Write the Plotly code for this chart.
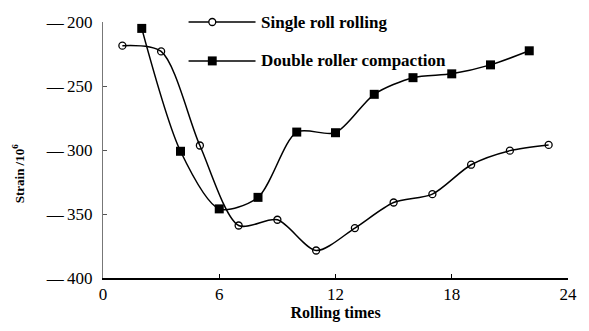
import plotly.graph_objects as go

# Rolling passes and measured strain (x10^-6)
single_passes = [1, 3, 5, 7, 9, 11, 13, 15, 17, 19, 21, 23]
single_strain = [-218.5, -223, -296.5, -359, -354.5, -378.5, -361, -341, -334.5, -311.5, -300.5, -296]

double_passes = [2, 4, 6, 8, 10, 12, 14, 16, 18, 20, 22]
double_strain = [-205, -301, -346, -337, -286, -286.5, -256.5, -243.5, -240.5, -233.5, -222.5]

series_names = ["Single roll rolling", "Double roller compaction"]

x_ticks = [0, 6, 12, 18, 24]
y_ticks = [-400, -350, -300, -250, -200]
y_tick_labels = ["\u2014" + "\u2009" + str(abs(v)) for v in y_ticks]

SERIF = "Liberation Serif"
PLOT_W, PLOT_H = 472, 256

fig = go.Figure()
fig.add_trace(go.Scatter(
    x=single_passes, y=single_strain, name=series_names[0],
    mode="lines+markers", line=dict(color="black", width=1.5, shape="spline", smoothing=0.8),
    marker=dict(symbol="circle-open", size=7, color="black", line=dict(width=1.3)),
))
fig.add_trace(go.Scatter(
    x=double_passes, y=double_strain, name=series_names[1],
    mode="lines+markers", line=dict(color="black", width=1.5, shape="spline", smoothing=0.8),
    marker=dict(symbol="square", size=9, color="black"),
))

# Legend drawn inside the plot area (paper coordinates)
legend_rows = [(1.0, "circle"), (0.848, "square")]
for (ly, kind), name in zip(legend_rows, series_names):
    fig.add_shape(type="line", xref="paper", yref="paper", x0=0.184, x1=0.328, y0=ly, y1=ly,
                  line=dict(color="black", width=1.5))
    cx = 0.235
    if kind == "circle":
        fig.add_shape(type="circle", xref="paper", yref="paper",
                      x0=cx - 3.5 / PLOT_W, x1=cx + 3.5 / PLOT_W,
                      y0=ly - 3.5 / PLOT_H, y1=ly + 3.5 / PLOT_H,
                      line=dict(color="black", width=1.3), fillcolor="white")
    else:
        fig.add_shape(type="rect", xref="paper", yref="paper",
                      x0=cx - 4.5 / PLOT_W, x1=cx + 4.5 / PLOT_W,
                      y0=ly - 4.5 / PLOT_H, y1=ly + 4.5 / PLOT_H,
                      line=dict(color="black", width=0), fillcolor="black")
    fig.add_annotation(xref="paper", yref="paper", x=0.336, y=ly, xanchor="left", yanchor="middle",
                       text="<b>" + name + "</b>", showarrow=False,
                       font=dict(family=SERIF, size=17, color="black"))

# Y-axis title
fig.add_annotation(xref="paper", yref="paper", x=-86 / PLOT_W, y=0.41, xanchor="center",
                   yanchor="middle", textangle=-90, showarrow=False,
                   text="<b>Strain /10<sup>6</sup></b>", font=dict(family=SERIF, size=13, color="black"))

fig.update_layout(
    width=589, height=331,
    margin=dict(l=103, r=14, t=22, b=53),
    paper_bgcolor="white", plot_bgcolor="white",
    showlegend=False,
    font=dict(family=SERIF, color="black"),
)
fig.update_xaxes(
    range=[0, 24], tickvals=x_ticks, ticks="inside", ticklen=4, tickwidth=1, tickcolor="black",
    showline=True, linecolor="black", linewidth=2, showgrid=False, zeroline=False,
    tickfont=dict(family=SERIF, size=17, color="black"),
    title=dict(text="<b>Rolling times</b>", font=dict(family=SERIF, size=16), standoff=2),
)
fig.update_yaxes(
    range=[-400, -200], tickvals=y_ticks, ticktext=y_tick_labels,
    ticks="inside", ticklen=4, tickwidth=1, tickcolor="#555",
    showline=True, linecolor="#777", linewidth=1, showgrid=False, zeroline=False,
    tickfont=dict(family=SERIF, size=17, color="black"), ticklabelstandoff=6,
)

fig.write_html("out.html")
